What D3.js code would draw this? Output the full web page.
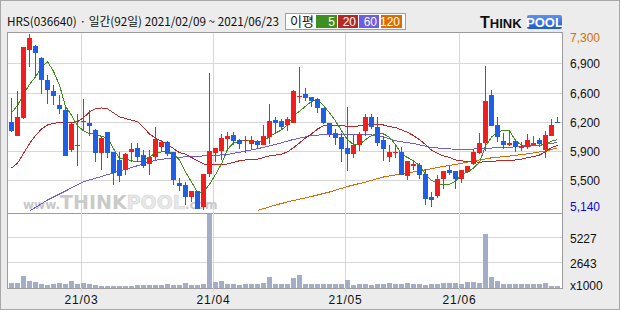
<!DOCTYPE html>
<html>
<head>
<meta charset="utf-8">
<script src="https://cdn.jsdelivr.net/npm/d3@7"></script>
<style>
  body { margin: 0; background: #fff; }
  svg { display: block; }
  svg text { font-family: "Liberation Sans", Arial, sans-serif; }
</style>
</head>
<body>
<script>
const width = 620;
const height = 310;

// trading days, 2021 (month -> day of month)
const tradingDays = {
  "02": [9, 10, 15, 16, 17, 18, 19, 22, 23, 24, 25, 26],
  "03": [2, 3, 4, 5, 8, 9, 10, 11, 12, 15, 16, 17, 18, 19, 22, 23, 24, 25, 26, 29, 30, 31],
  "04": [1, 2, 5, 6, 7, 8, 9, 12, 13, 14, 15, 16, 19, 20, 21, 22, 23, 26, 27, 28, 29, 30],
  "05": [3, 4, 6, 7, 10, 11, 12, 13, 14, 17, 18, 20, 21, 24, 25, 26, 27, 28, 31],
  "06": [1, 2, 3, 4, 7, 8, 9, 10, 11, 14, 15, 16, 17, 18, 21, 22, 23],
};

const opens = [6220, 6050, 6270, 7100, 7150, 7010, 6730, 6600, 6430, 6370, 5870, 5930, 6220, 6210, 6120, 5840,
  6090, 5850, 5750, 5630, 5850, 5900, 5810, 5700, 5790, 5910, 5970, 5850, 5470, 5440, 5290, 5370,
  5170, 5580, 5840, 5860, 6010, 6060, 6000, 5980, 5950, 5980, 5940, 6030, 6240, 6230, 6180, 6210,
  6530, 6560, 6530, 6500, 6390, 6210, 6080, 6030, 5900, 5820, 5930, 6110, 6280, 6160, 6000, 5790,
  5840, 5850, 5550, 5680, 5690, 5580, 5300, 5310, 5510, 5630, 5610, 5510, 5600, 5700, 5840, 5960,
  6550, 6180, 5980, 5930, 5980, 5900, 5910, 5940, 6000, 5870, 6050, 6220];
const highs = [6510, 6600, 7140, 7300, 7160, 7020, 6790, 6670, 6550, 6400, 6200, 6320, 6500, 6370, 6130, 6030,
  6100, 5850, 5850, 5840, 5960, 5960, 5870, 5870, 6150, 6000, 5980, 5850, 5530, 5480, 5370, 5370,
  5580, 6820, 5900, 6070, 6090, 6100, 6010, 6050, 6050, 6000, 6180, 6440, 6280, 6260, 6280, 6610,
  6900, 6640, 6530, 6510, 6390, 6210, 6130, 6080, 6400, 6060, 6100, 6310, 6310, 6280, 6040, 5940,
  5940, 5910, 5740, 5740, 5710, 5640, 5350, 5560, 5610, 5670, 5610, 5630, 5680, 5880, 6080, 6910,
  6610, 6280, 6080, 6110, 5990, 5970, 6070, 6040, 6020, 6110, 6250, 6280];
const lows = [6100, 6040, 6260, 6900, 6770, 6560, 6440, 6430, 6310, 5800, 5850, 5670, 6120, 6040, 5730, 5630,
  5770, 5440, 5480, 5560, 5730, 5730, 5650, 5570, 5750, 5850, 5800, 5440, 5370, 5190, 5230, 5150,
  5140, 5540, 5730, 5750, 5890, 5940, 5880, 5840, 5890, 5880, 5930, 5950, 6080, 6120, 6110, 6200,
  6450, 6480, 6400, 6330, 6190, 6030, 5940, 5730, 5610, 5780, 5860, 6050, 6130, 5920, 5740, 5720,
  5780, 5560, 5500, 5630, 5510, 5190, 5170, 5280, 5390, 5560, 5390, 5470, 5590, 5690, 5820, 5860,
  6170, 5970, 5880, 5920, 5850, 5860, 5890, 5930, 5930, 5780, 6040, 6210];
const closes = [6110, 6280, 7140, 7250, 7070, 6730, 6610, 6540, 6380, 5800, 6190, 5940, 6230, 6170, 5840, 6020,
  5840, 5590, 5550, 5820, 5880, 5790, 5680, 5790, 6010, 5970, 5820, 5500, 5430, 5290, 5370, 5150,
  5580, 5860, 5900, 6020, 6040, 5980, 5950, 5990, 6000, 5940, 6050, 6230, 6210, 6160, 6250, 6600,
  6540, 6510, 6480, 6390, 6210, 6070, 6020, 5880, 5820, 5940, 6070, 6280, 6160, 5960, 5890, 5850,
  5850, 5570, 5740, 5700, 5560, 5270, 5260, 5510, 5610, 5590, 5510, 5630, 5680, 5850, 5960, 6480,
  6170, 6030, 5930, 5960, 5910, 5920, 6000, 5960, 5950, 6060, 6180, 6210];
// volume, x1000 shares
const volumes = [550, 550, 1240, 720, 620, 410, 280, 410, 520, 450, 720, 410, 520, 450, 340, 200,
  200, 200, 200, 230, 230, 280, 280, 310, 310, 340, 450, 340, 280, 480, 310, 310,
  410, 7650, 650, 720, 410, 410, 340, 380, 410, 380, 480, 1100, 450, 450, 450, 990,
  1310, 410, 410, 380, 410, 380, 410, 380, 830, 340, 380, 380, 340, 380, 380, 520,
  380, 450, 520, 450, 380, 340, 410, 410, 480, 520, 550, 410, 620, 620, 550, 5580,
  1170, 690, 450, 380, 380, 380, 380, 380, 410, 520, 200, 200];

// moving averages as drawn
const ma5 = [6330, 6420, 6560, 6680, 6770, 6890, 6960, 6840, 6670, 6410, 6300, 6170, 6110, 6070, 6070, 6040,
  6020, 5890, 5770, 5760, 5740, 5730, 5740, 5790, 5830, 5850, 5850, 5820, 5750, 5600, 5480, 5350,
  5360, 5450, 5570, 5700, 5880, 5960, 5980, 5990, 5990, 5970, 5980, 6040, 6080, 6120, 6180, 6290,
  6350, 6410, 6470, 6500, 6420, 6330, 6230, 6110, 6000, 5940, 5940, 6000, 6050, 6080, 6070, 6030,
  5940, 5820, 5780, 5740, 5680, 5570, 5500, 5460, 5440, 5450, 5490, 5570, 5600, 5650, 5720, 5920,
  6030, 6100, 6110, 6110, 5990, 5930, 5930, 5930, 5920, 5950, 5980, 6000];
const ma20 = [5650, 5710, 5830, 5950, 6050, 6130, 6180, 6200, 6210, 6210, 6210, 6220, 6270, 6340, 6380, 6390,
  6380, 6330, 6280, 6260, 6240, 6220, 6150, 6070, 6020, 5980, 5940, 5890, 5840, 5820, 5780, 5740,
  5700, 5690, 5690, 5690, 5700, 5720, 5740, 5750, 5760, 5760, 5780, 5800, 5810, 5820, 5850, 5900,
  5960, 6020, 6070, 6130, 6170, 6180, 6180, 6180, 6160, 6160, 6170, 6180, 6190, 6190, 6180, 6160,
  6150, 6120, 6090, 6050, 6000, 5940, 5870, 5830, 5800, 5780, 5750, 5740, 5730, 5730, 5720, 5730,
  5730, 5740, 5740, 5740, 5750, 5760, 5780, 5790, 5810, 5850, 5900, 5930];
const ma60Days = [3, 4, 6, 9, 12, 15, 18, 21, 24, 27, 30, 33, 36, 38, 41, 44, 47, 50, 53, 56, 59, 62, 64, 67,
  70, 73, 76, 79, 82, 85, 88, 91];
const ma60Values = [5120, 5165, 5257, 5368, 5482, 5546, 5614, 5679, 5746, 5778, 5793, 5802, 5817, 5845, 5888,
  5940, 6002, 6050, 6067, 6069, 6069, 6036, 5985, 5952, 5903, 5885, 5881, 5891, 5906, 5912, 5930, 5965];
const ma120Days = [41, 44, 47, 50, 53, 56, 59, 62, 65, 68, 71, 74, 77, 80, 83, 86, 89, 91];
const ma120Values = [5128, 5195, 5251, 5300, 5355, 5423, 5478, 5540, 5577, 5614, 5657, 5694, 5737, 5776, 5798,
  5825, 5860, 5897];

const priceTickLabels = ["7,300", "6,900", "6,600", "6,200", "5,900", "5,500", "5,140"];
const volumeTicks = [5227, 2643];
const maPeriods = ["5", "20", "60", "120"];

const dates = Object.entries(tradingDays).flatMap(([m, ds]) =>
  ds.map((d) => `2021-${m}-${String(d).padStart(2, "0")}`)
);
const days = dates.map((date, i) => ({
  date,
  open: opens[i],
  high: highs[i],
  low: lows[i],
  close: closes[i],
  volume: volumes[i],
}));

const colors = {
  up: "#f21d1d",
  down: "#1f5fe6",
  volume: "#a4adc6",
  grid: "#d7d7d7",
  frame: "#9c9c9c",
  ma: ["#3f8f1f", "#b4282a", "#6d5de0", "#dc6c00"],
};

const plot = { left: 7, right: 562, top: 32, priceBottom: 213, volBottom: 288 };

let svg = d3
  .select("body")
  .append("svg")
  .attr("width", width)
  .attr("height", height);

svg
  .append("rect")
  .attr("x", 0.5)
  .attr("y", 0.5)
  .attr("width", width - 1)
  .attr("height", height - 1)
  .attr("fill", "#ececec")
  .attr("stroke", "#a8a8a8");

let defs = svg.append("defs");
defs
  .append("clipPath")
  .attr("id", "clip-price")
  .append("rect")
  .attr("x", plot.left)
  .attr("y", plot.top)
  .attr("width", plot.right - plot.left)
  .attr("height", plot.priceBottom - plot.top);

let poolGrad = defs.append("linearGradient").attr("id", "pool-grad").attr("x1", 0).attr("x2", 0).attr("y1", 0).attr("y2", 1);
poolGrad.append("stop").attr("offset", "0%").attr("stop-color", "#5b94ee");
poolGrad.append("stop").attr("offset", "100%").attr("stop-color", "#1d5bc8");

// panels
svg
  .selectAll("rect.panel")
  .data([
    [plot.top, plot.priceBottom],
    [plot.priceBottom, plot.volBottom],
  ])
  .join("rect")
  .attr("class", "panel")
  .attr("x", plot.left + 0.5)
  .attr("y", (d) => d[0] + 0.5)
  .attr("width", plot.right - plot.left)
  .attr("height", (d) => d[1] - d[0])
  .attr("fill", "#fff")
  .attr("stroke", colors.frame);

// scales
let x = d3.scaleBand().domain(dates).range([8, 560]).paddingInner(0).paddingOuter(0);

const priceDomain = [d3.min(lows), d3.max(highs)];
let y = d3.scaleLinear().domain(priceDomain).range([209.5, 34]);

let vy = d3.scaleLinear().domain([0, 7750]).range([plot.volBottom, plot.priceBottom]);

let grid = svg.append("g").attr("shape-rendering", "crispEdges");

// horizontal price grid: even divisions between low and high
let priceLevels = d3
  .range(priceTickLabels.length)
  .map((k) => priceDomain[1] - (k * (priceDomain[1] - priceDomain[0])) / (priceTickLabels.length - 1));

grid
  .selectAll("line.pgrid")
  .data(priceLevels.slice(1, -1))
  .join("line")
  .attr("x1", plot.left + 1)
  .attr("x2", plot.right)
  .attr("y1", (d) => Math.round(y(d)) + 0.5)
  .attr("y2", (d) => Math.round(y(d)) + 0.5)
  .attr("stroke", colors.grid);

grid
  .selectAll("line.vgrid")
  .data(volumeTicks)
  .join("line")
  .attr("x1", plot.left + 1)
  .attr("x2", plot.right)
  .attr("y1", (d) => Math.round(vy(d)) + 0.5)
  .attr("y2", (d) => Math.round(vy(d)) + 0.5)
  .attr("stroke", colors.grid);

// month boundaries
let monthStarts = dates.filter((d, i) => i > 0 && d.slice(5, 7) !== dates[i - 1].slice(5, 7));

grid
  .selectAll("line.mgrid")
  .data(monthStarts)
  .join("line")
  .attr("x1", (d) => x(d) + 1.5)
  .attr("x2", (d) => x(d) + 1.5)
  .attr("y1", plot.top + 1)
  .attr("y2", plot.volBottom + 4)
  .attr("stroke", colors.grid);

// watermark
let wm = svg.append("text").attr("x", 23).attr("y", 209).style("font-family", "'DejaVu Sans', sans-serif");
wm.append("tspan").text("www.").attr("font-size", 12).attr("fill", "#c8c8c8").attr("font-weight", "bold");
wm.append("tspan").text("THINK").attr("font-size", 19).attr("fill", "#cacaca").attr("font-weight", "bold");
wm.append("tspan")
  .text("POOL")
  .attr("font-size", 19)
  .attr("fill", "#e8e8e8")
  .attr("stroke", "#d4d4d4")
  .attr("stroke-width", 0.6)
  .attr("font-weight", "bold");
wm.append("tspan").text(".com").attr("font-size", 12).attr("fill", "#c8c8c8").attr("font-weight", "bold");

// moving averages
let maSeries = [
  ma5.map((v, i) => [i, v]),
  ma20.map((v, i) => [i, v]),
  ma60Days.map((d, i) => [d, ma60Values[i]]),
  ma120Days.map((d, i) => [d, ma120Values[i]]),
];

let line = d3
  .line()
  .x((d) => x(dates[d[0]]) + 3.5)
  .y((d) => y(d[1]));

svg
  .append("g")
  .attr("clip-path", "url(#clip-price)")
  .selectAll("path")
  .data(maSeries.slice().reverse())
  .join("path")
  .attr("d", line)
  .attr("fill", "none")
  .attr("stroke", (d, i) => colors.ma[3 - i])
  .attr("stroke-width", 1)
  .attr("shape-rendering", "crispEdges");

// candles
let candleColor = (d) => (d.close >= d.open ? colors.up : colors.down);
let candles = svg.append("g").attr("clip-path", "url(#clip-price)").attr("shape-rendering", "crispEdges");

candles
  .selectAll("rect.wick")
  .data(days)
  .join("rect")
  .attr("class", "wick")
  .attr("x", (d) => x(d.date) + 3)
  .attr("width", 1)
  .attr("y", (d) => Math.round(y(d.high)))
  .attr("height", (d) => Math.max(1, Math.round(y(d.low)) - Math.round(y(d.high))))
  .attr("fill", candleColor);

candles
  .selectAll("rect.body")
  .data(days)
  .join("rect")
  .attr("class", "body")
  .attr("x", (d) => x(d.date) + 1)
  .attr("width", 5)
  .attr("y", (d) => Math.round(y(Math.max(d.open, d.close))))
  .attr("height", (d) =>
    Math.max(1, Math.round(y(Math.min(d.open, d.close))) - Math.round(y(Math.max(d.open, d.close))))
  )
  .attr("fill", candleColor);

// volume bars
svg
  .append("g")
  .attr("shape-rendering", "crispEdges")
  .selectAll("rect")
  .data(days)
  .join("rect")
  .attr("x", (d) => x(d.date) + 1)
  .attr("width", 5)
  .attr("y", (d) => Math.round(vy(d.volume)))
  .attr("height", (d) => plot.volBottom - Math.round(vy(d.volume)))
  .attr("fill", colors.volume);

// right axis labels
svg
  .append("g")
  .selectAll("text")
  .data(priceLevels)
  .join("text")
  .attr("x", 570)
  .attr("y", (d) => Math.max(38, Math.min(207, y(d) + 1)))
  .attr("dy", "0.35em")
  .attr("font-size", 12)
  .attr("fill", (d, i) => (i === 0 ? "#d97000" : i === priceLevels.length - 1 ? "#0a0ad8" : "#111"))
  .text((d, i) => priceTickLabels[i]);

svg
  .append("g")
  .selectAll("text")
  .data(volumeTicks)
  .join("text")
  .attr("x", 570)
  .attr("y", (d) => vy(d) + 1)
  .attr("dy", "0.35em")
  .attr("font-size", 12)
  .attr("fill", "#111")
  .text((d) => d);

svg
  .append("text")
  .attr("x", 570)
  .attr("y", 286)
  .attr("dy", "0.35em")
  .attr("font-size", 12)
  .attr("fill", "#111")
  .text("x1000");

// month labels
svg
  .append("g")
  .selectAll("text")
  .data(monthStarts)
  .join("text")
  .attr("x", (d) => x(d) + 1.5)
  .attr("y", 300)
  .attr("dy", "0.35em")
  .attr("text-anchor", "middle")
  .attr("font-size", 12)
  .attr("letter-spacing", 0.8)
  .attr("fill", "#111")
  .text((d) => `${d.slice(2, 4)}/${d.slice(5, 7)}`);

// title
svg
  .append("text")
  .attr("x", 7)
  .attr("y", 26)
  .attr("font-size", 12)
  .attr("fill", "#111")
  .attr("textLength", 272)
  .attr("lengthAdjust", "spacingAndGlyphs")
  .style("font-family", "'Noto Sans CJK KR', sans-serif")
  .text(`HRS(036640) · 일간(${dates.length}일) ${dates[0].replace(/-/g, "/")} ~ ${dates[dates.length - 1].replace(/-/g, "/")}`);

// MA legend
let legend = svg.append("g").attr("shape-rendering", "crispEdges");
legend
  .append("rect")
  .attr("x", 285.5)
  .attr("y", 13.5)
  .attr("width", 120)
  .attr("height", 16)
  .attr("fill", "#fff")
  .attr("stroke", "#a0a0a0");
legend
  .append("text")
  .attr("x", 290)
  .attr("y", 26)
  .attr("font-size", 13)
  .attr("fill", "#111")
  .style("font-family", "'Noto Sans CJK KR', sans-serif")
  .text("이평");

let boxX = d3.scaleOrdinal().domain(maPeriods).range([316, 338, 359, 381]);
let boxW = d3.scaleOrdinal().domain(maPeriods).range([21, 20, 20, 21]);

legend
  .selectAll("rect.ma")
  .data(maPeriods)
  .join("rect")
  .attr("class", "ma")
  .attr("x", (d) => boxX(d))
  .attr("y", 15)
  .attr("width", (d) => boxW(d))
  .attr("height", 13)
  .attr("fill", (d, i) => colors.ma[i]);

legend
  .selectAll("text.ma")
  .data(maPeriods)
  .join("text")
  .attr("class", "ma")
  .attr("x", (d) => boxX(d) + boxW(d) - 2)
  .attr("y", 26)
  .attr("text-anchor", "end")
  .attr("font-size", 12)
  .attr("fill", "#fff")
  .text((d) => d);

// logo
let logo = svg.append("text").attr("x", 480).attr("y", 28).attr("font-weight", "bold").attr("fill", "#111");
logo.append("tspan").text("T").attr("font-size", 16);
logo.append("tspan").text("HINK").attr("font-size", 13);
svg
  .append("rect")
  .attr("x", 527)
  .attr("y", 15)
  .attr("width", 35)
  .attr("height", 14)
  .attr("rx", 2)
  .attr("fill", "url(#pool-grad)");
svg
  .append("text")
  .attr("x", 544.5)
  .attr("y", 27)
  .attr("text-anchor", "middle")
  .attr("font-size", 13)
  .attr("font-weight", "bold")
  .attr("fill", "#fff")
  .text("POOL");
</script>
</body>
</html>
